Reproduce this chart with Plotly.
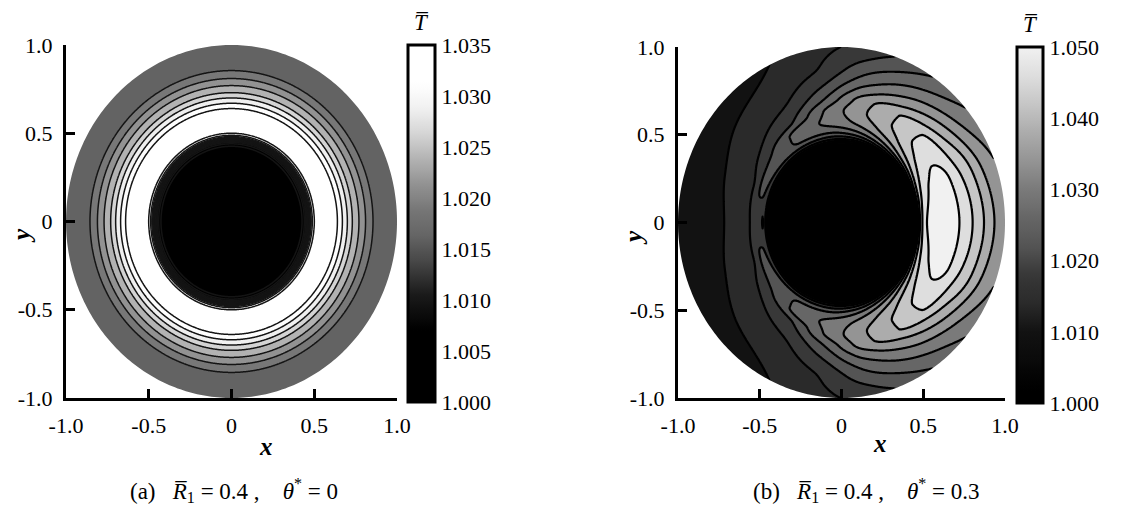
import numpy as np
import plotly.graph_objects as go

SERIF = "Liberation Serif, Times New Roman, serif"

# ---------------- data ----------------
# panel (a): axisymmetric temperature profile T(r)
R_A = [0.40, 0.43, 0.45, 0.465, 0.48, 0.50, 0.55, 0.60, 0.64, 0.67, 0.70,
       0.73, 0.77, 0.81, 0.855, 0.90, 0.95, 1.00]
T_A = [1.000, 1.003, 1.008, 1.018, 1.027, 1.0325, 1.0345, 1.0340, 1.0325,
       1.0300, 1.0275, 1.0250, 1.0225, 1.0200, 1.0175, 1.0163, 1.0157, 1.0153]

# panel (b): T(r, theta), theta measured from +x axis (field symmetric in y)
THETA_B = [0, 20, 40, 60, 80, 100, 120, 140, 160, 180]
R_B = [0.40, 0.44, 0.46, 0.48, 0.52, 0.58, 0.64, 0.70, 0.76, 0.82, 0.88, 0.94, 1.00]
T_B_000 = [1.000, 1.003, 1.028, 1.040, 1.0478, 1.0503, 1.0503, 1.0488, 1.0462, 1.0430, 1.0395, 1.0358, 1.0340]
T_B_020 = [1.000, 1.003, 1.022, 1.036, 1.0445, 1.0485, 1.0495, 1.0483, 1.0450, 1.0420, 1.0380, 1.0345, 1.0322]
T_B_040 = [1.000, 1.003, 1.016, 1.028, 1.0385, 1.0440, 1.0458, 1.0452, 1.0412, 1.0372, 1.0333, 1.0303, 1.0282]
T_B_060 = [1.000, 1.003, 1.012, 1.022, 1.0320, 1.0382, 1.0403, 1.0400, 1.0360, 1.0320, 1.0285, 1.0255, 1.0230]
T_B_080 = [1.000, 1.003, 1.010, 1.018, 1.0270, 1.0330, 1.0348, 1.0338, 1.0298, 1.0258, 1.0228, 1.0200, 1.0178]
T_B_100 = [1.000, 1.003, 1.010, 1.017, 1.0245, 1.0287, 1.0280, 1.0240, 1.0207, 1.0180, 1.0160, 1.0152, 1.0145]
T_B_120 = [1.000, 1.003, 1.010, 1.017, 1.0240, 1.0248, 1.0195, 1.0172, 1.0152, 1.0140, 1.0130, 1.0122, 1.0115]
T_B_140 = [1.000, 1.003, 1.011, 1.018, 1.0225, 1.0193, 1.0162, 1.0148, 1.0135, 1.0125, 1.0115, 1.0105, 1.0095]
T_B_160 = [1.000, 1.003, 1.012, 1.019, 1.0205, 1.0157, 1.0140, 1.0130, 1.0120, 1.0110, 1.0100, 1.0091, 1.0085]
T_B_180 = [1.000, 1.003, 1.013, 1.0201, 1.0180, 1.0152, 1.0134, 1.0123, 1.0113, 1.0103, 1.0093, 1.0086, 1.0082]
T_B_ROWS = [T_B_000, T_B_020, T_B_040, T_B_060, T_B_080, T_B_100,
            T_B_120, T_B_140, T_B_160, T_B_180]

R_INNER = 0.40
R_OUTER = 1.00

# contour levels
LEV_A = dict(start=1.0025, end=1.0325, size=0.0025)
LEV_B = dict(start=1.004, end=1.048, size=0.004)

# colour bars
CB_A_MIN, CB_A_MAX = 1.000, 1.035
CB_A_TICKS = [1.000, 1.005, 1.010, 1.015, 1.020, 1.025, 1.030, 1.035]
CB_B_MIN, CB_B_MAX = 1.000, 1.050
CB_B_TICKS = [1.000, 1.010, 1.020, 1.030, 1.040, 1.050]

# grey stops (T value, grey level)
GREY_A_T = [1.000, 1.007, 1.0105, 1.0137, 1.01625, 1.01875, 1.02125, 1.02375, 1.02625, 1.02875, 1.0312, 1.040]
GREY_A_V = [0, 0, 26, 70, 100, 118, 145, 178, 212, 240, 255, 255]
GREY_B_T = [1.000, 1.002, 1.006, 1.010, 1.014, 1.018, 1.022, 1.026, 1.030,
            1.034, 1.038, 1.042, 1.046, 1.052]
GREY_B_V = [0, 0, 10, 18, 42, 56, 84, 102, 122, 148, 172, 198, 222, 250]

AX_TICKS = [-1.0, -0.5, 0.0, 0.5, 1.0]
AX_TEXT = ["-1.0", "-0.5", "0", "0.5", "1.0"]

CAPTION_A = ("(a)\u00a0\u00a0 <i>R\u0305</i><sub>1</sub>\u00a0=\u00a00.4\u00a0,"
             "\u00a0\u00a0\u00a0 <i>\u03b8</i><sup>*</sup>\u00a0=\u00a00")
CAPTION_B = ("(b)\u00a0\u00a0 <i>R\u0305</i><sub>1</sub>\u00a0=\u00a00.4\u00a0,"
             "\u00a0\u00a0\u00a0 <i>\u03b8</i><sup>*</sup>\u00a0=\u00a00.3")


# ---------------- helpers ----------------
def pchip(xk, yk, xq, zero_ends=False):
    xk = np.asarray(xk, float)
    yk = np.asarray(yk, float)
    xq = np.asarray(xq, float)
    h = np.diff(xk)
    delta = np.diff(yk) / h
    n = len(xk)
    d = np.zeros(n)
    for k in range(1, n - 1):
        if delta[k - 1] * delta[k] > 0:
            w1 = 2 * h[k] + h[k - 1]
            w2 = h[k] + 2 * h[k - 1]
            d[k] = (w1 + w2) / (w1 / delta[k - 1] + w2 / delta[k])
    if not zero_ends:
        d[0] = delta[0]
        d[-1] = delta[-1]
    idx = np.clip(np.searchsorted(xk, xq) - 1, 0, n - 2)
    t = (xq - xk[idx]) / h[idx]
    hh = h[idx]
    h00 = 2 * t**3 - 3 * t**2 + 1
    h10 = t**3 - 2 * t**2 + t
    h01 = -2 * t**3 + 3 * t**2
    h11 = t**3 - t**2
    return h00 * yk[idx] + h10 * hh * d[idx] + h01 * yk[idx + 1] + h11 * hh * d[idx + 1]


def grey_scale(tv, gv, lo, hi):
    tv = np.asarray(tv, float)
    gv = np.asarray(gv, float)
    pos = np.linspace(0, 1, 61)
    vals = np.interp(lo + pos * (hi - lo), tv, gv)
    out = []
    for p, v in zip(pos, vals):
        g = int(round(v))
        out.append([float(p), "rgb(%d,%d,%d)" % (g, g, g)])
    return out


# grid offset by half a cell so that no node lies exactly on the symmetry axis
xs = np.linspace(-1.0025, 1.0025, 402)
XX, YY = np.meshgrid(xs, xs)
RR = np.hypot(XX, YY)
RC = np.clip(RR, R_INNER, R_OUTER)

# field (a)
ZA = pchip(R_A, T_A, RC)
ZA[RR < R_INNER] = T_A[0]

# field (b): refine the polar table, then sample it on the cartesian grid
rf = np.linspace(R_INNER, R_OUTER, 241)
thf = np.linspace(0, 180, 361)
rows = np.array([pchip(R_B, row, rf) for row in T_B_ROWS])
FB = np.array([pchip(THETA_B, rows[:, j], thf, zero_ends=True) for j in range(len(rf))]).T
TH = np.degrees(np.abs(np.arctan2(YY, XX)))
ir = (RC - R_INNER) / (R_OUTER - R_INNER) * (len(rf) - 1)
it = TH / 180.0 * (len(thf) - 1)
i0 = np.clip(np.floor(ir).astype(int), 0, len(rf) - 2)
j0 = np.clip(np.floor(it).astype(int), 0, len(thf) - 2)
fr = ir - i0
ft = it - j0
ZB = (FB[j0, i0] * (1 - fr) * (1 - ft) + FB[j0, i0 + 1] * fr * (1 - ft)
      + FB[j0 + 1, i0] * (1 - fr) * ft + FB[j0 + 1, i0 + 1] * fr * ft)
ZB[RR < R_INNER] = T_B_000[0]

# mask outside the outer wall (square with a circular hole)
ang = np.linspace(0, 2 * np.pi, 361)
MX = [-1.5, -1.5, 1.5, 1.5, -1.5, None] + list(R_OUTER * np.cos(ang))
MY = [-1.5, 1.5, 1.5, -1.5, -1.5, None] + list(R_OUTER * np.sin(ang))

W, H = 1147, 511


def px(xp):
    return xp / W


def py(yp):
    return 1 - yp / H


fig = go.Figure()

panels = [
    dict(z=ZA, lev=LEV_A, gt=GREY_A_T, gv=GREY_A_V, cmin=CB_A_MIN, cmax=CB_A_MAX,
         ticks=CB_A_TICKS, xa="x", ya="y", lw=1.5, lc="#141414",
         cbx=408, cbw=27, cbtop=45, cbbot=402),
    dict(z=ZB, lev=LEV_B, gt=GREY_B_T, gv=GREY_B_V, cmin=CB_B_MIN, cmax=CB_B_MAX,
         ticks=CB_B_TICKS, xa="x2", ya="y2", lw=2.2, lc="#000000",
         cbx=1017, cbw=26, cbtop=47, cbbot=403),
]

for p in panels:
    lev = p["lev"]
    dlo = lev["start"] - lev["size"] / 2
    dhi = lev["end"] + lev["size"] / 2
    fig.add_trace(go.Contour(
        x=xs, y=xs, z=p["z"], xaxis=p["xa"], yaxis=p["ya"],
        autocontour=False,
        contours=dict(start=lev["start"], end=lev["end"], size=lev["size"],
                      coloring="fill", showlines=True),
        line=dict(color=p["lc"], width=p["lw"], smoothing=1),
        colorscale=grey_scale(p["gt"], p["gv"], dlo, dhi),
        showscale=False, hoverinfo="skip"))
    fig.add_trace(go.Scatter(
        x=MX, y=MY, xaxis=p["xa"], yaxis=p["ya"], mode="none", fill="toself",
        fillcolor="white", hoverinfo="skip", showlegend=False))
    fig.add_trace(go.Scatter(
        x=[0], y=[0], xaxis=p["xa"], yaxis=p["ya"], mode="markers",
        marker=dict(size=1, opacity=0, color=[p["cmin"]], cmin=p["cmin"], cmax=p["cmax"],
                    colorscale=grey_scale(p["gt"], p["gv"], p["cmin"], p["cmax"]),
                    showscale=True,
                    colorbar=dict(x=px(p["cbx"]), xanchor="left", xpad=0, ypad=0,
                                  thickness=p["cbw"], lenmode="pixels",
                                  len=p["cbbot"] - p["cbtop"],
                                  y=py((p["cbtop"] + p["cbbot"]) / 2), yanchor="middle",
                                  outlinewidth=3, outlinecolor="black",
                                  tickvals=p["ticks"],
                                  ticktext=["%.3f" % t for t in p["ticks"]],
                                  ticks="", ticklen=0,
                                  tickfont=dict(family=SERIF, size=22, color="black"))),
        hoverinfo="skip", showlegend=False))


def xaxis(domain, anchor):
    return dict(domain=domain, anchor=anchor, range=[-1, 1], tickvals=AX_TICKS,
                ticktext=AX_TEXT, ticks="inside", ticklen=9, tickwidth=3,
                tickcolor="black", showline=True, linewidth=3, linecolor="black",
                showgrid=False, zeroline=False, ticklabelstandoff=6, automargin=False,
                tickfont=dict(family=SERIF, size=22, color="black"), fixedrange=True)


def yaxis(domain, anchor):
    d = xaxis(domain, anchor)
    d["ticklabelstandoff"] = 6
    return d


fig.update_layout(
    width=W, height=H, margin=dict(l=0, r=0, t=0, b=0, autoexpand=False),
    paper_bgcolor="white", plot_bgcolor="white", showlegend=False,
    xaxis=xaxis([px(66), px(397)], "y"),
    yaxis=yaxis([py(398), py(45)], "x"),
    xaxis2=xaxis([px(678), px(1005)], "y2"),
    yaxis2=yaxis([py(398), py(47)], "x2"),
)

ann = []
def add_text(xp, yp, text, size=21, angle=0):
    ann.append(dict(x=px(xp), y=py(yp), xref="paper", yref="paper", text=text,
                    showarrow=False, textangle=angle, xanchor="center", yanchor="middle",
                    font=dict(family=SERIF, size=size, color="black")))

add_text(266, 446, "<b><i>x</i></b>", 25)
add_text(21, 236, "<b><i>y</i></b>", 25, -90)
add_text(880, 443, "<b><i>x</i></b>", 25)
add_text(633, 238, "<b><i>y</i></b>", 25, -90)
add_text(421, 22, "<i>T\u0305</i>", 23)
add_text(1030, 24, "<i>T\u0305</i>", 23)
add_text(234, 490, CAPTION_A, 23)
add_text(866, 490, CAPTION_B, 23)
fig.update_layout(annotations=ann)

fig.write_html("out.html")
